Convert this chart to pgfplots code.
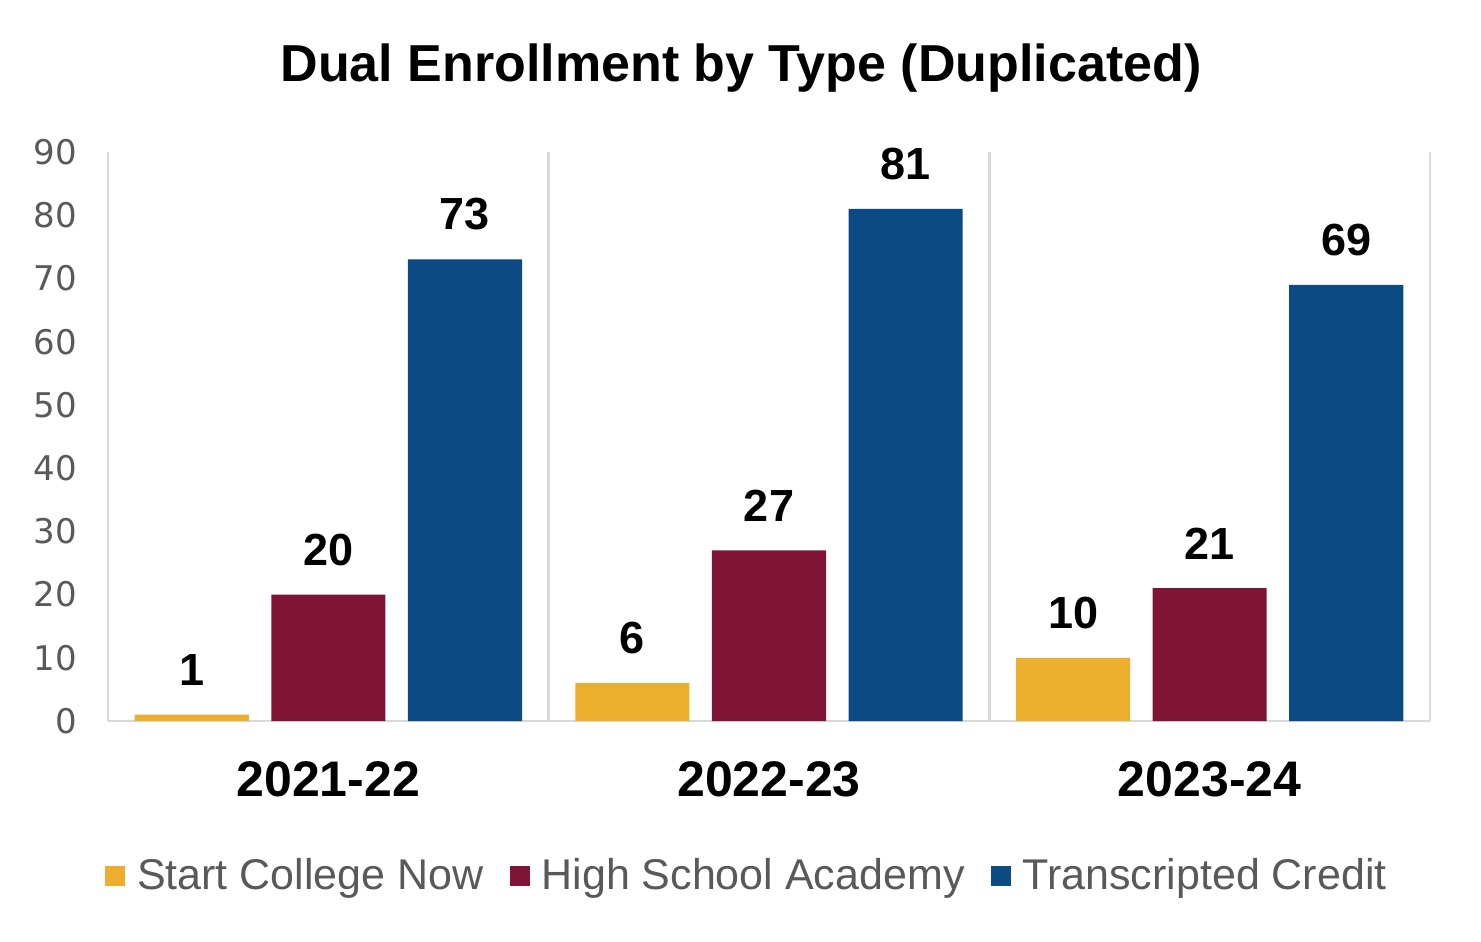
\documentclass[border=0pt]{standalone}
\usepackage{fontspec}
\setmainfont{Liberation Sans}
\newfontfamily\tickfont{DejaVu Sans}
\usepackage{pgfplots}
\pgfplotsset{compat=1.18}
\definecolor{scn}{HTML}{EDAE2D}
\definecolor{hsa}{HTML}{7F1437}
\definecolor{tcr}{HTML}{0B4A84}
\definecolor{sep}{HTML}{D9D9D9}
\definecolor{tickgray}{HTML}{595959}
\begin{document}
\begin{tikzpicture}
\begin{axis}[
  scale only axis,
  width=661pt, height=284.5pt,
  ybar,
  xmin=-0.5, xmax=2.5, ymin=0, ymax=90,
  ytick={0,10,...,90},
  xtick={0,1,2},
  xticklabels={2021-22,2022-23,2023-24},
  x tick label style={font=\fontsize{25}{30}\selectfont\bfseries, text=black, yshift=-17pt},
  y tick label style={font=\tickfont\fontsize{17}{21}\selectfont, text=tickgray, xshift=-12pt},
  /pgf/number format/assume math mode=true,
  major tick length=0pt,
  axis x line*=bottom,
  axis y line*=left,
  axis line style={sep, line width=1.2pt},
  extra x ticks={0.5,1.5,2.5},
  extra x tick labels={},
  extra x tick style={grid=major, major grid style={sep, line width=1.2pt}},
  bar width=0.259,
  nodes near coords,
  nodes near coords style={font=\fontsize{22.5}{27}\selectfont\bfseries, text=black, anchor=south, yshift=11pt},
  legend columns=3,
  legend style={draw=none, at={(0.484,-0.272)}, anchor=center,
    font=\fontsize{21.5}{26}\selectfont, text=tickgray,
    /tikz/every odd column/.append style={column sep=4pt},
    /tikz/every even column/.append style={column sep=11pt}},
  legend image code/.code={\fill[#1] (0pt,-5pt) rectangle (10pt,5pt);},
]
\addplot[bar shift=-0.31, fill=scn, draw=none] coordinates {(0,1) (1,6) (2,10)};
\addlegendentry{Start College Now}
\addplot[bar shift=0, fill=hsa, draw=none] coordinates {(0,20) (1,27) (2,21)};
\addlegendentry{High School Academy}
\addplot[bar shift=0.31, fill=tcr, draw=none] coordinates {(0,73) (1,81) (2,69)};
\addlegendentry{Transcripted Credit}
\end{axis}
\node[font=\fontsize{26}{31}\selectfont\bfseries] at (316.5pt,326.5pt) {Dual Enrollment by Type (Duplicated)};
\pgfresetboundingbox
\path[use as bounding box] (-54pt,-110pt) rectangle (686.5pt,360.5pt);
\end{tikzpicture}
\end{document}
